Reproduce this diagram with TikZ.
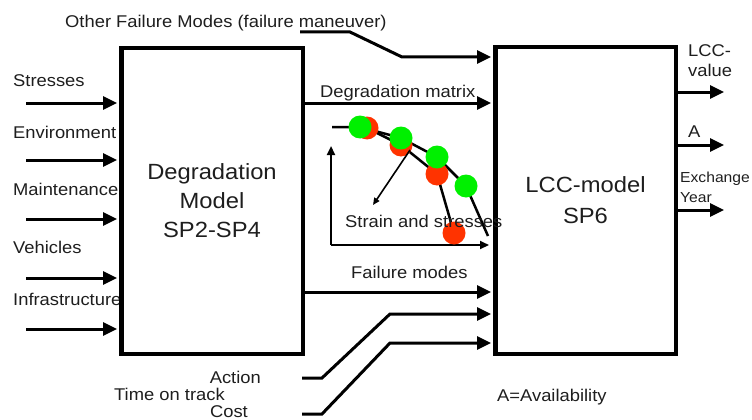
\documentclass[tikz,border=0pt]{standalone}
\usepackage{fontspec}
\setmainfont[FakeStretch=1.08]{Liberation Sans}
\usetikzlibrary{arrows.meta}
\definecolor{dotred}{RGB}{255,51,0}
\definecolor{dotgreen}{RGB}{0,240,0}
\definecolor{txt}{RGB}{30,30,30}
\begin{document}
\begin{tikzpicture}[x=1pt,y=-1pt,
 lbl/.style={font=\fontsize{17}{20}\selectfont, inner sep=0pt, anchor=base west, text=txt},
 small/.style={font=\fontsize{14.5}{17}\selectfont, inner sep=0pt, anchor=base west, text=txt},
 box/.style={draw, line width=4.5pt, align=center, inner sep=0pt, text=txt},
 arr/.style={line width=3pt, -{Triangle[length=14pt,width=13pt]}},
 axis/.style={line width=2.2pt, -{Triangle[length=9pt,width=8pt]}},
 curve/.style={line width=2.5pt},
 thinarr/.style={line width=1.6pt, -{Triangle[length=7pt,width=6pt]}}]
\useasboundingbox (0,0) rectangle (752,420);

% left input labels (drawn first, box border covers them)
\node[lbl] (tStresses) at (13,86) {Stresses};
\node[lbl] (tEnvironment) at (13,138) {Environment};
\node[lbl] (tMaintenance) at (13,195) {Maintenance};
\node[lbl] (tVehicles) at (13,253) {Vehicles};
\node[lbl] (tInfrastructure) at (13,305) {Infrastructure};

% boxes
\node[box, minimum width=181.5pt, minimum height=305.5pt,
      font=\fontsize{22}{29}\selectfont] (deg) at (212,201) {Degradation\\Model\\SP2-SP4};
\node[box, minimum width=180.5pt, minimum height=306.5pt,
      font=\fontsize{22}{31}\selectfont] (lcc) at (585.5,200.5) {LCC-model\\SP6};

% left input arrows
\foreach \y/\n in {103/a,160/b,219/c,278/d,329/e}{
  \coordinate (s\n) at (26,\y);
  \draw[arr, shorten >=2pt] (s\n) -- (s\n -| deg.west);
}

% other failure modes
\node[lbl] (ofm) at (65,28) {Other Failure Modes (failure maneuver)};
\coordinate (ofs) at (300,32);
\coordinate (ofe) at (402,57);
\draw[arr, shorten >=2pt] (ofs) -- (350,32) -- (ofe) -- (ofe -| lcc.west);

% degradation matrix
\coordinate (dm) at (310,103);
\node[lbl] (dmt) at (320,97) {Degradation matrix};
\draw[arr, shorten >=2pt] (dm -| deg.east) -- (dm -| lcc.west);

% failure modes
\coordinate (fm) at (310,292);
\node[lbl] (fmt) at (351,278) {Failure modes};
\draw[arr, shorten >=2pt] (fm -| deg.east) -- (fm -| lcc.west);

% action / cost
\node[lbl, anchor=base east] (act) at (261,383) {Action};
\node[lbl] (tot) at (114,400) {Time on track};
\node[lbl, anchor=base east] (cost) at (248,417) {Cost};
\coordinate (as) at (302,378);
\coordinate (ae) at (390,314);
\draw[arr, shorten >=2pt] (as) -- (322,378) -- (ae) -- (ae -| lcc.west);
\coordinate (cs) at (302,414);
\coordinate (ce) at (390,343);
\draw[arr, shorten >=2pt] (cs) -- (322,414) -- (ce) -- (ce -| lcc.west);

% outputs
\foreach \y/\n in {92/a,145/b,210/c}{
  \coordinate (o\n) at (724,\y);
  \draw[arr] (o\n -| lcc.east) -- (o\n);
}
\node[lbl] (lv1) at (688,57) {LCC-};
\node[lbl] (lv2) at (688,77) {value};
\node[lbl] (av) at (688,137) {A};
\node[small] (ex1) at (680,182) {Exchange};
\node[small] (ex2) at (680,202) {Year};
\node[lbl] (avail) at (497,401) {A=Availability};

% chart
\coordinate (orig) at (331,245);
\draw[axis] (orig) -- (331,146);
\draw[axis] (orig) -- (489,245);
\draw[curve] (332,127) -- (360,127) -- (401,138) -- (437,157) -- (466,186) -- (488,236);
\draw[curve] (367,128) -- (401,145) -- (437,174) -- (454,233);
\fill[dotred] (367,128) circle (11.5);
\fill[dotgreen] (360,127) circle (11.5);
\fill[dotred] (401,145) circle (11.5);
\fill[dotgreen] (401,138) circle (11.5);
\fill[dotred] (437,174) circle (11.5);
\fill[dotgreen] (437,157) circle (11.5);
\fill[dotgreen] (466,186) circle (11.5);
\fill[dotred] (454,233) circle (11.5);
\draw[thinarr] (410,150) -- (373,205);
\node[lbl] (strain) at (345,227) {Strain and stresses};
\end{tikzpicture}
\end{document}
